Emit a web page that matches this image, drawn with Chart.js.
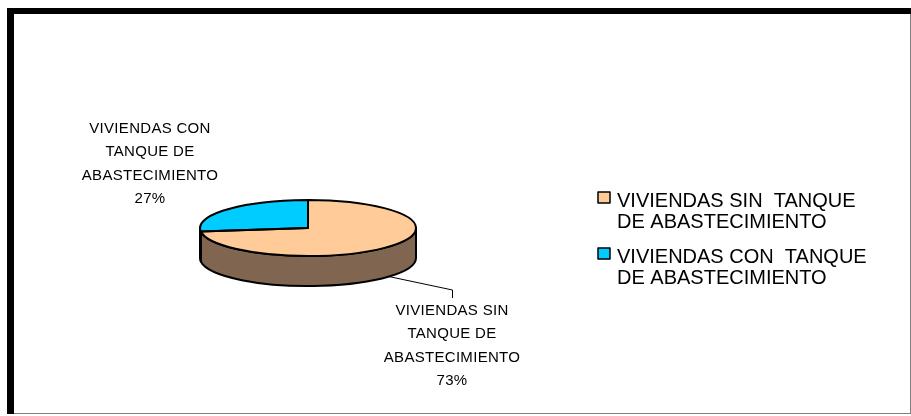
<!DOCTYPE html>
<html>
<head>
<meta charset="utf-8">
<script src="https://cdn.jsdelivr.net/npm/chart.js@4/dist/chart.umd.min.js"></script>
<style>
  html, body { margin: 0; padding: 0; background: #fff; }
  #wrap { position: relative; width: 911px; height: 416px; }
</style>
</head>
<body>
<div id="wrap"><canvas id="chart"></canvas></div>
<script>
const categories = ['VIVIENDAS SIN  TANQUE DE ABASTECIMIENTO', 'VIVIENDAS CON  TANQUE DE ABASTECIMIENTO'];
const legendLines = [['VIVIENDAS SIN  TANQUE', 'DE ABASTECIMIENTO'], ['VIVIENDAS CON  TANQUE', 'DE ABASTECIMIENTO']];
const labelLines = [['VIVIENDAS SIN', 'TANQUE DE', 'ABASTECIMIENTO'], ['VIVIENDAS CON', 'TANQUE DE', 'ABASTECIMIENTO']];
const values = [73, 27];
const topColors = ['#FFCC99', '#00CCFF'];
const sideColors = ['#806650', '#006680'];

const FONT = "'Liberation Sans', Arial, sans-serif";

// frame: thick black top/left, thin grey right/bottom
const frame = {
  id: 'frame',
  beforeDraw(chart) {
    const ctx = chart.ctx;
    ctx.save();
    ctx.fillStyle = '#fff';
    ctx.fillRect(0, 0, chart.width, chart.height);
    ctx.strokeStyle = '#808080';
    ctx.lineWidth = 1;
    ctx.strokeRect(7.5, 8.5, 903, 405);
    ctx.fillStyle = '#000';
    ctx.fillRect(7, 8, 904, 6);
    ctx.fillRect(7, 8, 7, 406);
    ctx.restore();
  }
};

// squash the library's pie into a tilted disc and add the side wall
const pie3d = {
  id: 'pie3d',
  beforeDatasetsDraw(chart, args, opts) {
    const ctx = chart.ctx;
    const arcs = chart.getDatasetMeta(0).data;
    const {x: cx, y: cy, outerRadius: r} = arcs[0];
    const ry = r * opts.tilt;
    ctx.save();
    ctx.lineWidth = 2;
    ctx.lineJoin = 'round';
    ctx.strokeStyle = '#000';
    arcs.forEach((arc, i) => {
      const a1 = Math.max(arc.startAngle, 0);
      const a2 = Math.min(arc.endAngle, Math.PI);
      if (a2 <= a1) return;
      ctx.beginPath();
      ctx.ellipse(cx, cy, r, ry, 0, a1, a2);
      ctx.ellipse(cx, cy + opts.depth, r, ry, 0, a2, a1, true);
      ctx.closePath();
      ctx.fillStyle = sideColors[i];
      ctx.fill();
      ctx.stroke();
    });
    ctx.restore();

    ctx.save();
    ctx.translate(cx, cy);
    ctx.scale(1, opts.tilt);
    ctx.translate(-cx, -cy);
  },
  afterDatasetsDraw(chart, args, opts) {
    const ctx = chart.ctx;
    ctx.restore();
    const arcs = chart.getDatasetMeta(0).data;
    const {x: cx, y: cy, outerRadius: r} = arcs[0];
    const ry = r * opts.tilt;
    ctx.save();
    ctx.lineWidth = 2;
    ctx.lineJoin = 'round';
    ctx.strokeStyle = '#000';
    arcs.forEach(arc => {
      ctx.beginPath();
      ctx.moveTo(cx, cy);
      ctx.ellipse(cx, cy, r, ry, 0, arc.startAngle, arc.endAngle);
      ctx.closePath();
      ctx.stroke();
    });

    // data labels
    const total = values.reduce((a, b) => a + b, 0);
    ctx.fillStyle = '#000';
    ctx.font = '15px ' + FONT;
    ctx.letterSpacing = '0.3px';
    ctx.textAlign = 'center';
    ctx.textBaseline = 'alphabetic';
    arcs.forEach((arc, i) => {
      const pos = opts.labels[i];
      const lines = labelLines[i].concat([Math.round(values[i] / total * 100) + '%']);
      lines.forEach((t, j) => ctx.fillText(t, pos.x, pos.y + j * 23.3));
      if (pos.leader) {
        const m = (arc.startAngle + arc.endAngle) / 2;
        ctx.beginPath();
        ctx.lineWidth = 1;
        ctx.strokeStyle = '#000';
        ctx.moveTo(cx + r * Math.cos(m), cy + opts.depth + ry * Math.sin(m));
        ctx.lineTo(pos.x + 0.5, pos.leader.elbow);
        ctx.lineTo(pos.x + 0.5, pos.leader.end);
        ctx.stroke();
      }
    });

    // legend
    ctx.letterSpacing = '0px';
    ctx.textAlign = 'left';
    ctx.font = '20px ' + FONT;
    legendLines.forEach((lines, i) => {
      const base = opts.legend.y + i * opts.legend.step;
      ctx.fillStyle = topColors[i];
      ctx.fillRect(opts.legend.x, base - 15, 12, 11);
      ctx.lineWidth = 1.5;
      ctx.strokeStyle = '#000';
      ctx.strokeRect(opts.legend.x, base - 15, 12, 11);
      ctx.fillStyle = '#000';
      lines.forEach((t, j) => ctx.fillText(t, opts.legend.x + 19, base + j * 21));
    });
    ctx.restore();
  }
};

new Chart(document.getElementById('chart'), {
  type: 'pie',
  data: {
    labels: categories,
    datasets: [{
      data: values,
      backgroundColor: topColors,
      borderWidth: 0
    }]
  },
  options: {
    responsive: true,
    maintainAspectRatio: false,
    animation: false,
    events: [],
    radius: 108,
    layout: { padding: { left: 0, right: 295, top: 40, bottom: 0 } },
    plugins: {
      legend: { display: false },
      tooltip: { enabled: false },
      pie3d: {
        tilt: 0.26,
        depth: 30,
        labels: [
          { x: 452, y: 315, leader: { elbow: 290, end: 298 } },
          { x: 150, y: 133 }
        ],
        legend: { x: 598, y: 207, step: 56 }
      }
    }
  },
  plugins: [frame, pie3d]
});
</script>
</body>
</html>
